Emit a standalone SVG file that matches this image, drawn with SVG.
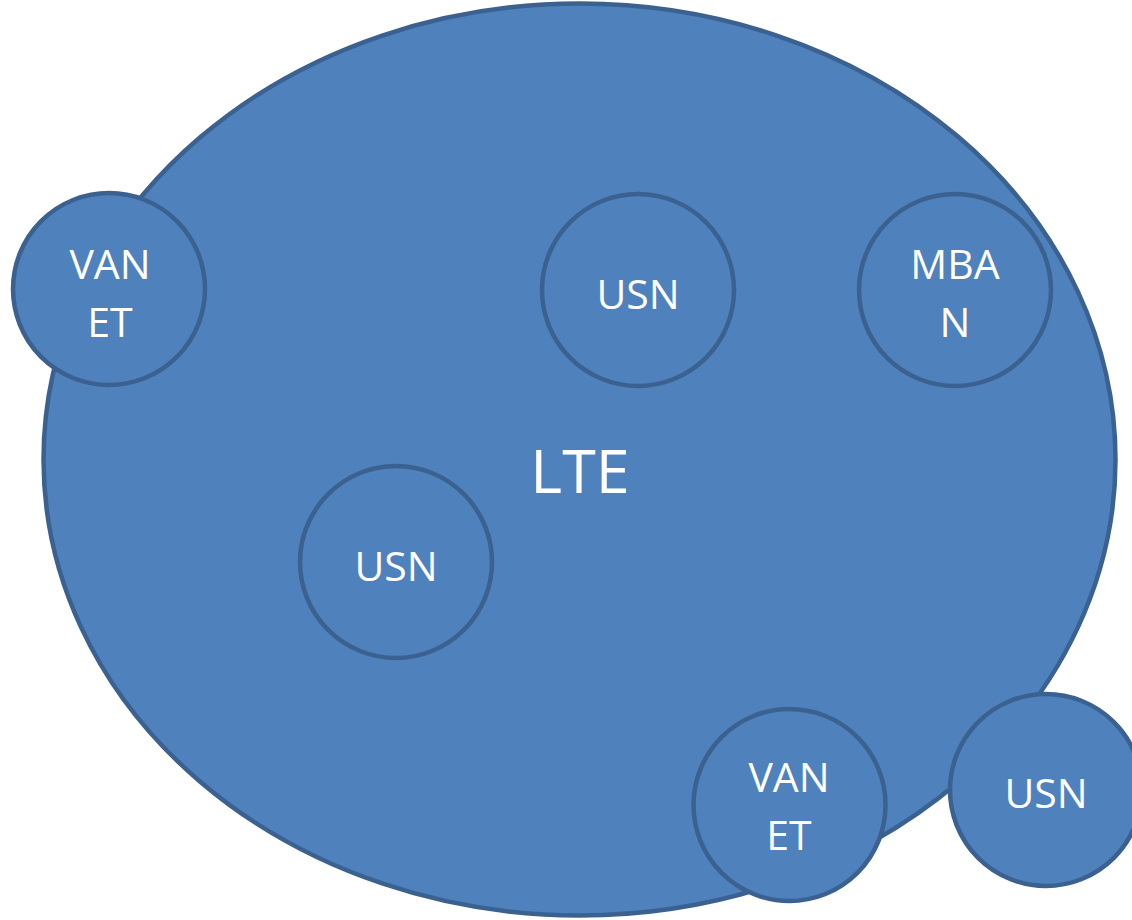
<svg xmlns="http://www.w3.org/2000/svg" width="1132" height="920" viewBox="0 0 1132 920">
<style>
.shape{fill:#4F81BD;stroke:#3A6190;stroke-width:4.5}
.lbl{fill:#FFFFFF;font-family:"Open Sans","Noto Sans",sans-serif;font-size:41px;text-anchor:middle}
.big{font-size:61px}
</style>
<rect width="1132" height="920" fill="#FFFFFF"/>
<g id="lte">
<ellipse class="shape" cx="579.5" cy="459.5" rx="536" ry="456"/>
<text class="lbl big" x="580" y="493">LTE</text>
</g>
<g id="vanet1">
<circle class="shape" cx="109" cy="289" r="96"/>
<text class="lbl" x="110" y="279">VAN</text>
<text class="lbl" x="110" y="337">ET</text>
</g>
<g id="usn1">
<circle class="shape" cx="638" cy="290" r="96"/>
<text class="lbl" x="638" y="309">USN</text>
</g>
<g id="mban">
<circle class="shape" cx="955" cy="290" r="96"/>
<text class="lbl" x="955" y="279">MBA</text>
<text class="lbl" x="955" y="337">N</text>
</g>
<g id="usn2">
<circle class="shape" cx="396" cy="562" r="96"/>
<text class="lbl" x="396" y="581">USN</text>
</g>
<g id="vanet2">
<circle class="shape" cx="789.5" cy="805" r="96"/>
<text class="lbl" x="789" y="792">VAN</text>
<text class="lbl" x="789" y="850">ET</text>
</g>
<g id="usn3">
<circle class="shape" cx="1046" cy="790" r="96"/>
<text class="lbl" x="1046" y="808">USN</text>
</g>
<g id="connectors"/>
</svg>
